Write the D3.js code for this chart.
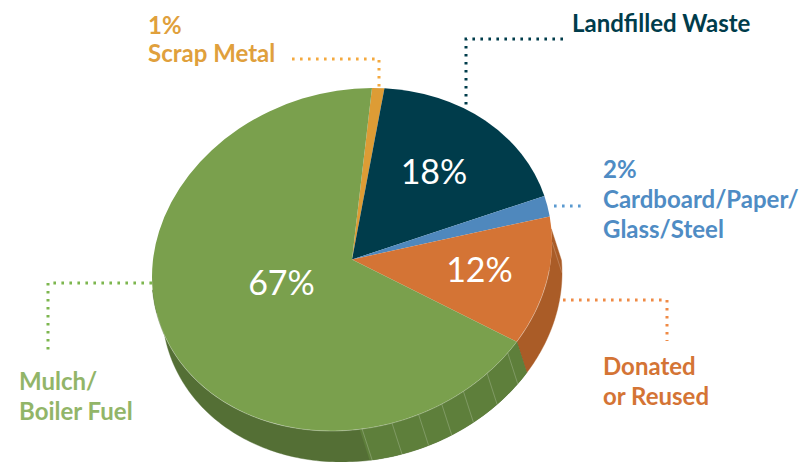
<!DOCTYPE html>
<html>
<head>
<meta charset="utf-8">
<script src="https://cdn.jsdelivr.net/npm/d3@7"></script>
<style>
  html, body { margin: 0; padding: 0; background: #fff; }
  svg { display: block; }
  text { font-family: Lato, sans-serif; }
</style>
</head>
<body>
<svg id="chart" width="803" height="462"></svg>
<script>
// Waste streams, clockwise from twelve o'clock
const categories = ["Scrap Metal", "Landfilled Waste", "Cardboard/Paper/Glass/Steel", "Donated or Reused", "Mulch/Boiler Fuel"];
const shares = [1, 18, 2, 12, 67];
const topColors = ["#dd9c35", "#003c4b", "#4f88bd", "#d47435", "#7aa04d"];
const sideColors = ["#b07c2a", "#003c4b", "#00404f", "#aa5c27", "#546f35"];
const labelColors = ["#e0a03c", "#003c4b", "#4f8cc4", "#d47435", "#92b568"];
const leaderColors = ["#f4a93f", "#003c4b", "#5a9ad0", "#ef8a45", "#7db64f"];
// Percent positions of the faint facet lines around the rim
const facetStops = [23.4, 34.2, 36.6, 39, 41, 43, 45.2, 47.6];
// Rim stretch drawn in the lighter green, as percent of the circle
const lightRim = [33, 47.8];
const lightRimColor = "#5e7f3b";

const svg = d3.select("#chart");
const cx = 352, cy = 259.5, R = 100;
const depthX = 10, depthY = 31;
// Tilted disc: unit circle to screen
const tilt = { a: 199 / R, b: -0.4 / R, c: -20 / R, d: 171.5 / R };
const matrix = `matrix(${tilt.a},${tilt.b},${tilt.c},${tilt.d},${cx},${cy})`;

const pie = d3.pie().sort(null).startAngle(0).endAngle(2 * Math.PI);
const slices = pie(shares);
const arc = d3.arc().innerRadius(0).outerRadius(R);

const rimPoint = (t, dx = 0, dy = 0) => {
  const x = R * Math.sin(t), y = -R * Math.cos(t);
  return [cx + tilt.a * x + tilt.c * y + dx, cy + tilt.b * x + tilt.d * y + dy];
};
const pct = d3.scaleLinear().domain([0, 100]).range([0, 2 * Math.PI]);

// Outward-facing band between the top rim and its dropped copy
function band(t0, t1) {
  const n = Math.max(2, Math.ceil((t1 - t0) * 60));
  const ts = d3.range(n + 1).map(i => t0 + (t1 - t0) * i / n);
  const pts = ts.map(t => rimPoint(t)).concat(ts.slice().reverse().map(t => rimPoint(t, depthX, depthY)));
  return d3.line()(pts) + "Z";
}

// The rim faces the viewer only over this range of angles
const faceCentre = Math.atan2((depthX - depthY * 20 / 171.5) / 199, -depthY / 171.5);
const faceFrom = faceCentre - Math.PI / 2, faceTo = faceCentre + Math.PI / 2;

const sides = svg.append("g");
slices.forEach((s, i) => {
  const t0 = Math.max(s.startAngle, faceFrom), t1 = Math.min(s.endAngle, faceTo);
  if (t1 > t0) sides.append("path").attr("d", band(t0, t1)).attr("fill", sideColors[i]).attr("stroke", sideColors[i]).attr("stroke-width", 0.4);
});
sides.append("path").attr("d", band(pct(lightRim[0]), pct(lightRim[1]))).attr("fill", lightRimColor);

facetStops.forEach(p => {
  const a = rimPoint(pct(p)), b = rimPoint(pct(p), depthX, depthY);
  sides.append("line").attr("x1", a[0]).attr("y1", a[1]).attr("x2", b[0]).attr("y2", b[1])
    .attr("stroke", "#fff").attr("stroke-opacity", 0.3).attr("stroke-width", 0.7);
});

// Top face
svg.append("g").attr("transform", matrix)
  .selectAll("path").data(slices).join("path")
  .attr("d", arc).attr("fill", (d, i) => topColors[i]);

// Pale highlight on the front of the rim
const rimLine = d3.range(0, 61).map(i => rimPoint(pct(26 + (48 - 26) * i / 60)));
const rimLine2 = d3.range(0, 61).map(i => rimPoint(pct(48 + (70 - 48) * i / 60)));
[rimLine, rimLine2].forEach(l => svg.append("path").attr("d", d3.line()(l)).attr("fill", "none")
  .attr("stroke", "#fff").attr("stroke-opacity", 0.4).attr("stroke-width", 0.7));

// Dotted leader lines
const leaders = [
  { c: 0, pts: [[292, 59], [379, 59], [379, 87]] },
  { c: 1, pts: [[563, 39], [466, 39], [466, 105]] },
  { c: 2, pts: [[554, 206], [581, 206]] },
  { c: 3, pts: [[563, 300], [667, 300], [667, 341]] },
  { c: 4, pts: [[152, 283], [48, 283], [48, 353]] }
];
svg.append("g").selectAll("path").data(leaders).join("path")
  .attr("d", d => d3.line()(d.pts)).attr("fill", "none")
  .attr("stroke", d => leaderColors[d.c]).attr("stroke-width", 3)
  .attr("stroke-dasharray", "2.6 5.4");

// Percent labels on the face
const faceLabels = [
  { t: shares[1] + "%", x: 434, y: 184 },
  { t: shares[3] + "%", x: 479.5, y: 282 },
  { t: shares[4] + "%", x: 281.5, y: 295 }
];
svg.append("g").selectAll("text").data(faceLabels).join("text")
  .attr("x", d => d.x).attr("y", d => d.y).attr("text-anchor", "middle")
  .attr("fill", "#fff").attr("font-size", 34).text(d => d.t);

// Callout labels
const callouts = [
  { c: 0, x: 148, lines: [[shares[0] + "%", 34], ["Scrap Metal", 62]] },
  { c: 1, x: 572, lines: [["Landfilled Waste", 32]] },
  { c: 2, x: 603, lines: [[shares[2] + "%", 178], ["Cardboard/Paper/", 208], ["Glass/Steel", 238]] },
  { c: 3, x: 603, lines: [["Donated", 375], ["or Reused", 405]] },
  { c: 4, x: 19, lines: [["Mulch/", 390], ["Boiler Fuel", 420]] }
];
callouts.forEach(o => o.lines.forEach(([t, y]) => {
  svg.append("text").attr("x", o.x).attr("y", y).attr("fill", labelColors[o.c])
    .attr("font-size", 24).attr("font-weight", 700).text(t);
}));
</script>
</body>
</html>
